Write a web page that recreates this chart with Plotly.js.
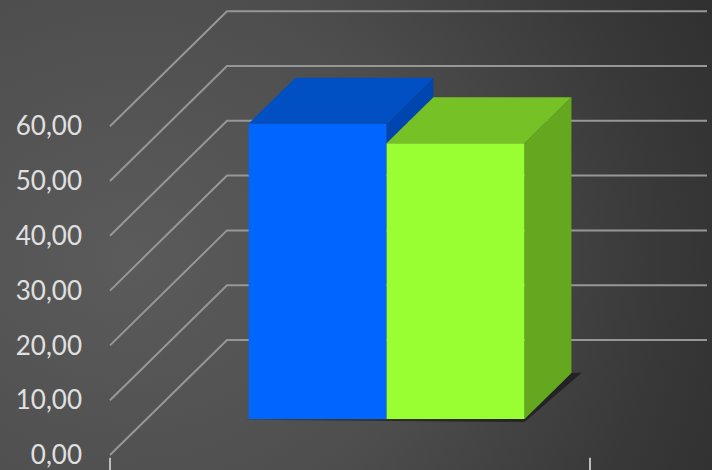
<!DOCTYPE html>
<html>
<head>
<meta charset="utf-8">
<script src="https://cdn.plot.ly/plotly-3.0.1.min.js"></script>
<style>
  html, body { margin: 0; padding: 0; }
  body { width: 712px; height: 470px; overflow: hidden;
    background: radial-gradient(ellipse 95% 130% at 18% 55%, #5b5b5b 0%, #4e4e4e 45%, #383838 80%, #2e2e2e 100%); }
  #chart { width: 712px; height: 470px; }
</style>
</head>
<body>
<div id="chart"></div>
<script>
// ---- data ----
const seriesNames = ['Série 1', 'Série 2'];
const values = [53.9, 50.3];
const yTicks = [0, 10, 20, 30, 40, 50, 60];
const yTickLabels = ['0,00', '10,00', '20,00', '30,00', '40,00', '50,00', '60,00'];

// ---- styles ----
const frontColors = ['#0066ff', '#99ff33'];
const topColors   = ['#0050c4', '#76c126'];
const sideColors  = ['#0046b0', '#64a820'];

// ---- oblique 3D geometry (in axis units) ----
const PXX = 480;           // px per category unit
const PXV = 5.48;          // px per value unit
const DX = 117 / PXX;      // full depth, x shift
const DV = 115 / PXV;      // full depth, value shift
const dFront = 0.313, dBack = 0.713;
const barW = 0.2875;
const clusterCenter = 0.5;
const centers = values.map((v, i) => clusterCenter + (i - (values.length - 1) / 2) * barW);

const traces = [];
// front faces: bars
values.forEach((v, i) => {
  traces.push({
    type: 'bar', name: seriesNames[i],
    x: [centers[i] + dFront * DX], y: [v], base: [dFront * DV], width: [barW],
    marker: { color: frontColors[i], line: { width: 0 } },
    hoverinfo: 'skip', showlegend: false
  });
});
// top & visible side faces
values.forEach((v, i) => {
  const xl = centers[i] - barW / 2, xr = centers[i] + barW / 2;
  const low = i < values.length - 1 ? Math.min(values[i + 1], v) : 0;
  if (low < v) {
    traces.push({
      type: 'scatter', mode: 'lines', fill: 'toself', fillcolor: sideColors[i],
      line: { width: 0, color: sideColors[i] }, hoverinfo: 'skip', showlegend: false,
      x: [xr + dFront * DX, xr + dFront * DX, xr + dBack * DX, xr + dBack * DX, xr + dFront * DX],
      y: [low + dFront * DV, v + dFront * DV, v + dBack * DV, low + dBack * DV, low + dFront * DV]
    });
  }
  traces.push({
    type: 'scatter', mode: 'lines', fill: 'toself', fillcolor: topColors[i],
    line: { width: 0, color: topColors[i] }, hoverinfo: 'skip', showlegend: false,
    x: [xl + dFront * DX, xr + dFront * DX, xr + dBack * DX, xl + dBack * DX, xl + dFront * DX],
    y: [v + dFront * DV, v + dFront * DV, v + dBack * DV, v + dBack * DV, v + dFront * DV]
  });
});

// gridlines: left wall diagonals + back wall horizontals
const gridColor = '#979797';
const shapes = [];
yTicks.forEach(t => {
  shapes.push({ type: 'path', layer: 'below', line: { color: gridColor, width: 2 },
    path: `M ${0} ${t} L ${DX} ${t + DV} L ${1 + DX} ${t + DV}` });
});
// category axis tick marks at the front floor edge
[0, 1].forEach(c => {
  shapes.push({ type: 'line', layer: 'below', line: { color: '#bdbdbd', width: 2 },
    x0: c, x1: c, y0: -0.5, y1: -4 });
});
// floor shadow under the bars
const xL0 = centers[0] - barW / 2, xRn = centers[values.length - 1] + barW / 2;
shapes.push({ type: 'path', layer: 'below', fillcolor: 'rgba(0,0,0,0.45)', line: { width: 0 },
  path: `M ${xL0 + dFront * DX - 0.012} ${dFront * DV - 0.1} L ${xRn + dFront * DX} ${dFront * DV - 0.55} ` +
        `L ${xRn + dBack * DX + 0.022} ${dBack * DV + 0.1} L ${xRn + dBack * DX} ${dBack * DV} ` +
        `L ${xRn + dFront * DX} ${dFront * DV} Z` });

const mL = 88;
const layout = {
  width: 712, height: 470,
  margin: { l: mL, r: 0, t: 0, b: 0, pad: 0 },
  paper_bgcolor: 'rgba(0,0,0,0)', plot_bgcolor: 'rgba(0,0,0,0)',
  barmode: 'overlay', showlegend: false,
  xaxis: { range: [(mL - 110) / PXX, (712 - 110) / PXX], visible: false, fixedrange: true },
  yaxis: { range: [-15 / PXV, 455 / PXV], tickvals: yTicks, ticktext: yTickLabels,
    showgrid: false, zeroline: false, showline: false, ticks: '', ticklabelstandoff: 5,
    ticklabeloverflow: 'allow',
    tickfont: { family: 'Lato, "Open Sans", sans-serif', size: 26, color: '#e0e0e0' }, fixedrange: true },
  shapes: shapes
};
Plotly.newPlot('chart', traces, layout, { displayModeBar: false, staticPlot: true });
</script>
</body>
</html>
